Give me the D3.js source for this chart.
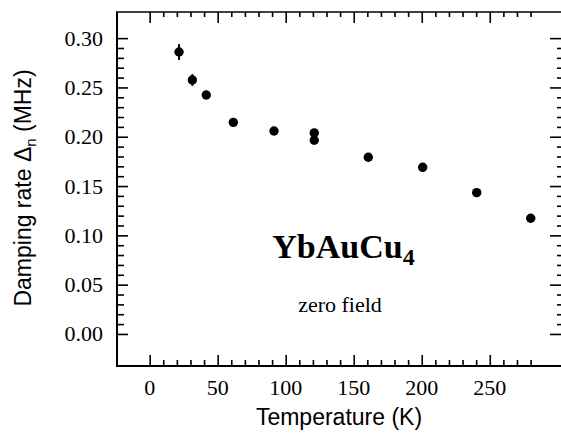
<!DOCTYPE html>
<html>
<head>
<meta charset="utf-8">
<script src="https://cdn.jsdelivr.net/npm/d3@7"></script>
<style>
  html, body { margin: 0; padding: 0; background: #fff; }
  svg { display: block; }
</style>
</head>
<body>
<svg id="chart" width="561" height="434"></svg>
<script>
// ---- data ----
const temperatures = [21.6, 31.4, 41.6, 61.5, 91.4, 121, 121, 160.7, 200.7, 240.4, 280.1];
const dampingRates = [0.2859, 0.2575, 0.2423, 0.2146, 0.2058, 0.2039, 0.1964, 0.1792, 0.1690, 0.1433, 0.1173];
const errors       = [0.008, 0.006, 0.004, 0.003, 0.003, 0.003, 0.003, 0.003, 0.003, 0.003, 0.003];
const xTickLabels  = [0, 50, 100, 150, 200, 250];
const yTickLabels  = [0.00, 0.05, 0.10, 0.15, 0.20, 0.25, 0.30];

const svg = d3.select("#chart");
const x = d3.scaleLinear().domain([-24, 302]).range([117, 560.5]);
const y = d3.scaleLinear().domain([-0.0325, 0.3265]).range([366, 12]);

const serif = "Liberation Serif";
const sans = "Liberation Sans";

const xMinor = d3.range(0, 281, 10);
const yMinor = d3.range(0, 31, 1).map(d => d / 100);

// frame (left, top, bottom; right edge lies at the picture edge)
const frame = svg.append("g").attr("stroke", "#000").attr("fill", "none");
frame.append("line").attr("x1", 117).attr("x2", 117).attr("y1", 12).attr("y2", 367).attr("stroke-width", 2);
frame.append("line").attr("x1", 116).attr("x2", 561).attr("y1", 366).attr("y2", 366).attr("stroke-width", 2);
frame.append("line").attr("x1", 116).attr("x2", 561).attr("y1", 12).attr("y2", 12).attr("stroke-width", 1.5);

function styleAxis(g) {
  g.select(".domain").remove();
  g.selectAll("line").attr("stroke", "#000").attr("stroke-width", 1.6);
  g.selectAll("text").remove();
}

// bottom axis ticks
svg.append("g").attr("transform", "translate(0,366)")
  .call(d3.axisBottom(x).tickValues(xMinor.filter(v => v % 50 !== 0)).tickSize(-6).tickFormat(""))
  .call(styleAxis);
svg.append("g").attr("transform", "translate(0,366)")
  .call(d3.axisBottom(x).tickValues(xTickLabels).tickSize(-11).tickFormat(""))
  .call(styleAxis);

// top axis ticks
svg.append("g").attr("transform", "translate(0,12)")
  .call(d3.axisTop(x).tickValues(xMinor.filter(v => v % 50 !== 0)).tickSize(-5).tickFormat(""))
  .call(styleAxis);
svg.append("g").attr("transform", "translate(0,12)")
  .call(d3.axisTop(x).tickValues(xTickLabels).tickSize(-11).tickFormat(""))
  .call(styleAxis);

// left axis ticks
svg.append("g").attr("transform", "translate(117,0)")
  .call(d3.axisLeft(y).tickValues(yMinor.filter((v, i) => i % 5 !== 0)).tickSize(-7).tickFormat(""))
  .call(styleAxis);
svg.append("g").attr("transform", "translate(117,0)")
  .call(d3.axisLeft(y).tickValues(yTickLabels).tickSize(-11).tickFormat(""))
  .call(styleAxis);

// right axis ticks
svg.append("g").attr("transform", "translate(561,0)")
  .call(d3.axisRight(y).tickValues(yMinor.filter((v, i) => i % 5 !== 0)).tickSize(-4).tickFormat(""))
  .call(styleAxis);
svg.append("g").attr("transform", "translate(561,0)")
  .call(d3.axisRight(y).tickValues(yTickLabels).tickSize(-11).tickFormat(""))
  .call(styleAxis);

// tick labels (serif, as in the reference)
svg.append("g").selectAll("text").data(xTickLabels).join("text")
  .attr("x", d => x(d)).attr("y", 395).attr("text-anchor", "middle")
  .attr("font-family", serif).attr("font-size", 22).attr("fill", "#000")
  .text(d3.format("d"));
svg.append("g").selectAll("text").data(yTickLabels).join("text")
  .attr("x", 103).attr("y", d => y(d)).attr("dy", "0.34em").attr("text-anchor", "end")
  .attr("font-family", serif).attr("font-size", 22).attr("fill", "#000")
  .text(d3.format(".2f"));

// data
const pts = temperatures.map((t, i) => ({ t, v: dampingRates[i], e: errors[i] }));
svg.append("g").selectAll("line").data(pts).join("line")
  .attr("x1", d => x(d.t)).attr("x2", d => x(d.t))
  .attr("y1", d => y(d.v - d.e)).attr("y2", d => y(d.v + d.e))
  .attr("stroke", "#000").attr("stroke-width", 2);
svg.append("g").selectAll("circle").data(pts).join("circle")
  .attr("cx", d => x(d.t)).attr("cy", d => y(d.v)).attr("r", 4.7).attr("fill", "#000");

// annotations
const title = svg.append("text").attr("x", 343.5).attr("y", 258).attr("text-anchor", "middle")
  .attr("font-family", serif).attr("font-weight", "bold").attr("font-size", 34).attr("fill", "#000");
title.append("tspan").text("YbAuCu");
title.append("tspan").attr("font-size", 24).attr("dy", 7).text("4");

svg.append("text").attr("x", 340).attr("y", 312).attr("text-anchor", "middle")
  .attr("font-family", serif).attr("font-size", 22).attr("fill", "#000").text("zero field");

// axis titles
svg.append("text").attr("x", 339).attr("y", 425).attr("text-anchor", "middle")
  .attr("font-family", sans).attr("font-size", 23).attr("fill", "#000").text("Temperature (K)");

const yl = svg.append("text").attr("transform", "translate(31,188) rotate(-90)").attr("text-anchor", "middle")
  .attr("font-family", sans).attr("font-size", 23).attr("fill", "#000");
yl.append("tspan").text("Damping rate Δ");
yl.append("tspan").attr("font-size", 15).attr("dy", 5).text("n");
yl.append("tspan").attr("dy", -5).text(" (MHz)");
</script>
</body>
</html>
